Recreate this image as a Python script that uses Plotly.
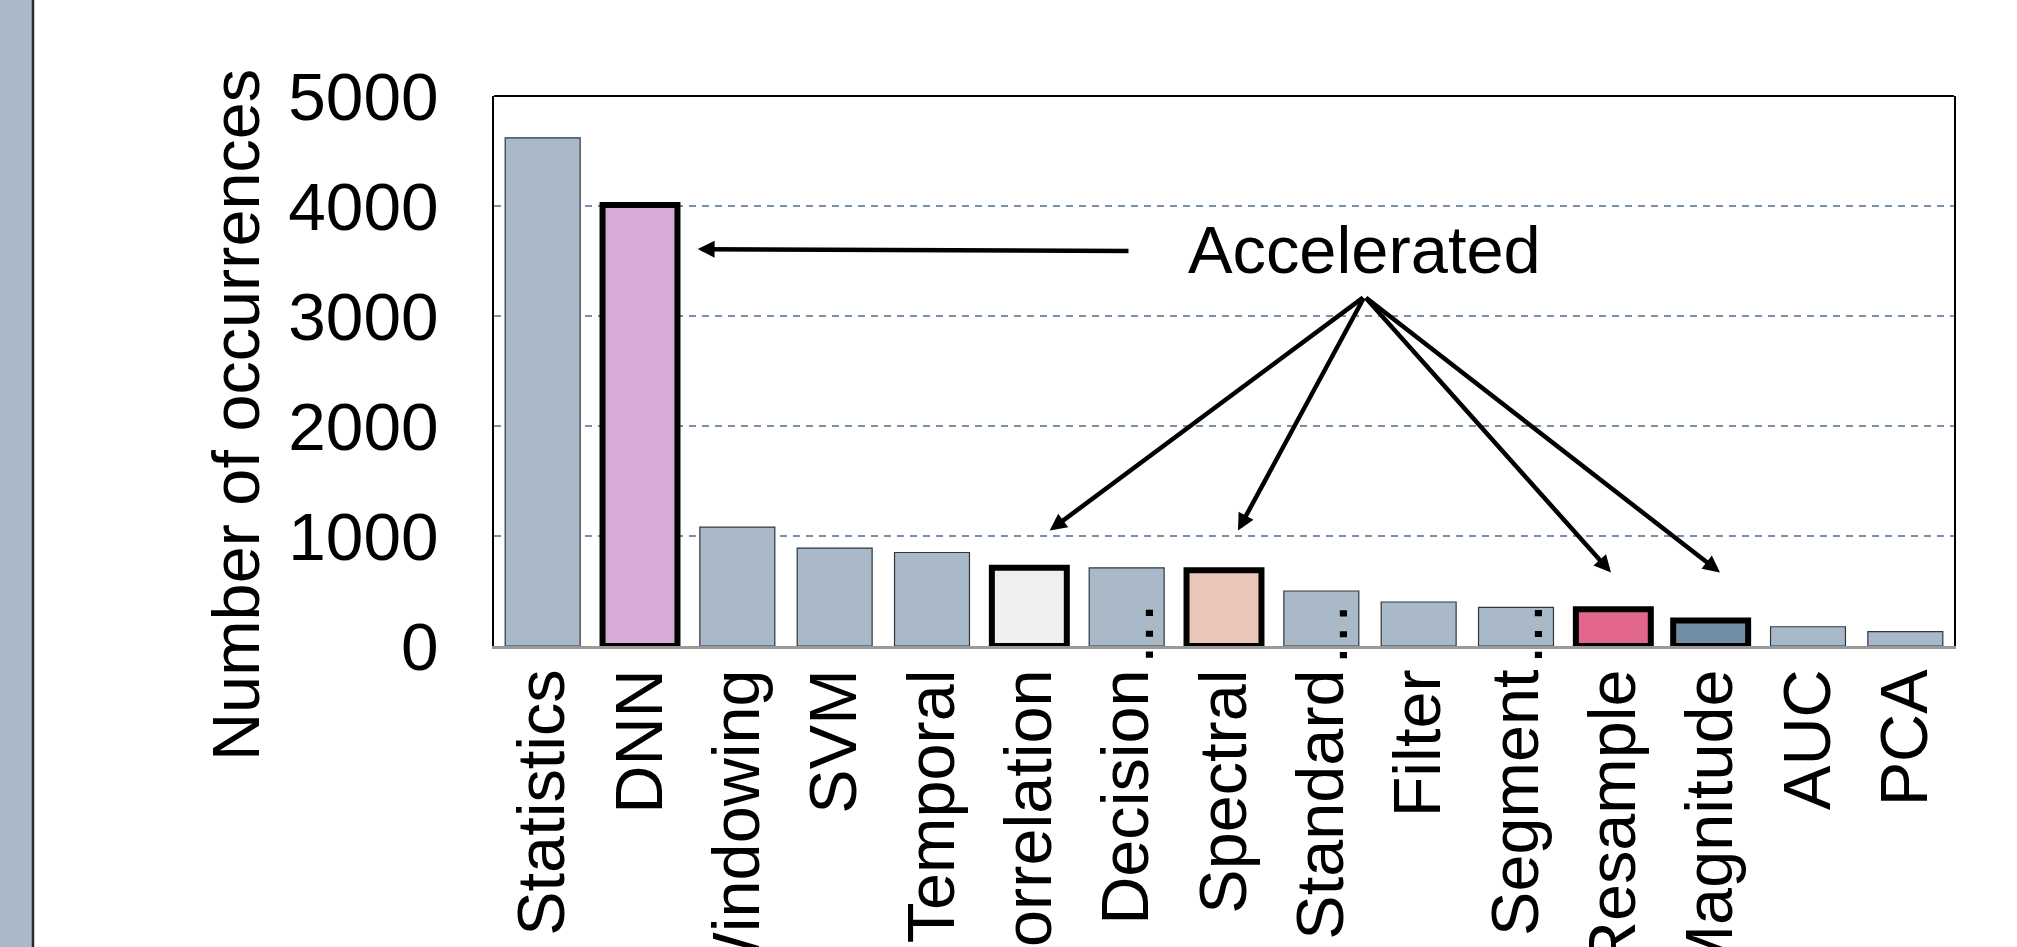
import plotly.graph_objects as go

# Occurrences of each processing kernel
categories = ["Statistics", "DNN", "Windowing", "SVM", "Temporal", "Correlation",
              "Decision…", "Spectral", "Standard…", "Filter", "Segment…",
              "Resample", "Magnitude", "AUC", "PCA"]
occurrences = [4620, 4010, 1080, 890, 850, 712, 710, 688, 500, 400, 352, 335, 232, 175, 130]

# Kernels that received a hardware accelerator
accelerated = ["DNN", "Correlation", "Spectral", "Resample", "Magnitude"]

y_ticks = [0, 1000, 2000, 3000, 4000, 5000]

# ---- styling -------------------------------------------------------------
W, H = 2017, 947
L, R, T, B = 494, 63, 96, 301
PW, PH = W - L - R, H - T - B
FONT = "Liberation Sans, Arial, sans-serif"

base_color = "#A9B9C8"
accel_colors = {
    "DNN": "#D8ABD6",
    "Correlation": "#EFEFEF",
    "Spectral": "#EBC6BB",
    "Resample": "#E2678A",
    "Magnitude": "#728EA6",
}

fill = [accel_colors.get(c, base_color) for c in categories]
edge_w = [6 if c in accelerated else 1.2 for c in categories]
edge_c = ["#000000" if c in accelerated else "#2E3640" for c in categories]
tick_text = [c.rstrip("…") for c in categories]


def px_x(px):
    return (px - L) / PW


def px_y(py):
    return (H - B - py) / PH


fig = go.Figure(
    go.Bar(
        x=categories,
        y=occurrences,
        marker=dict(color=fill, line=dict(color=edge_c, width=edge_w)),
        hoverinfo="x+y",
    )
)

annotations = []

# Ellipsis of the truncated category names
for c in categories:
    if c.endswith("…"):
        annotations.append(dict(
            x=c, y=0, xref="x", yref="y", text="…", textangle=-90,
            showarrow=False, xanchor="center", yanchor="middle",
            xshift=3, yshift=12,
            font=dict(family=FONT, size=66, color="black"),
        ))

# Y axis title
annotations.append(dict(
    x=px_x(236), y=px_y(415), xref="paper", yref="paper",
    text="Number of occurrences", textangle=-90, showarrow=False,
    xanchor="center", yanchor="middle",
    font=dict(family=FONT, size=66.6, color="black"),
))

# "Accelerated" callout with its arrows
annotations.append(dict(
    x=8.444, y=3600, xref="x", yref="y", text="Accelerated", showarrow=False,
    xanchor="center", yanchor="middle",
    font=dict(family=FONT, size=66.8, color="black"),
))
arrow_style = dict(showarrow=True, arrowhead=2, arrowsize=0.75, arrowwidth=4.5,
                   arrowcolor="black", xref="x", yref="y", axref="x", ayref="y",
                   text="")
annotations.append(dict(x=1.593, y=3608, ax=6.034, ay=3591, **arrow_style))
for tx, ty in [(5.209, 1050), (7.144, 1050), (10.976, 668), (12.096, 668)]:
    annotations.append(dict(x=tx, y=ty, ax=8.444, ay=3177, **arrow_style))

shapes = [
    # side band at the left edge
    dict(type="rect", xref="paper", yref="paper", x0=px_x(0), x1=px_x(32),
         y0=px_y(H), y1=px_y(0), fillcolor=base_color, line=dict(width=0),
         layer="below"),
    dict(type="line", xref="paper", yref="paper", x0=px_x(33), x1=px_x(33),
         y0=px_y(H), y1=px_y(0), line=dict(color="#2A2A2A", width=2.5)),
    # top edge of the plot frame
    dict(type="line", xref="paper", yref="paper", x0=0, x1=1, y0=1, y1=1,
         line=dict(color="black", width=2)),
]

fig.update_layout(
    width=W, height=H,
    margin=dict(l=L, r=R, t=T, b=B, pad=0),
    plot_bgcolor="white", paper_bgcolor="white",
    bargap=0.23, showlegend=False,
    font=dict(family=FONT, size=66, color="black"),
    annotations=annotations, shapes=shapes,
)

fig.update_xaxes(
    type="category", tickmode="array", tickvals=categories, ticktext=tick_text,
    tickangle=-90, ticks="", ticklabelstandoff=-6,
    tickfont=dict(family=FONT, size=66.6, color="black"),
    showline=True, linecolor="#9A9A9A", linewidth=2.5, mirror=False,
    showgrid=False, zeroline=False, automargin=False,
    range=[-0.5, len(categories) - 0.5], layer="above traces",
)

fig.update_yaxes(
    range=[0, 5000], tickmode="array", tickvals=y_ticks,
    ticks="", ticklabelstandoff=40,
    tickfont=dict(family=FONT, size=67.5, color="black"),
    showline=True, linecolor="black", linewidth=2, mirror=True,
    showgrid=True, gridcolor="#7890AA", gridwidth=2, griddash="7px,6px",
    zeroline=False, automargin=False,
)

fig.write_html("out.html")
